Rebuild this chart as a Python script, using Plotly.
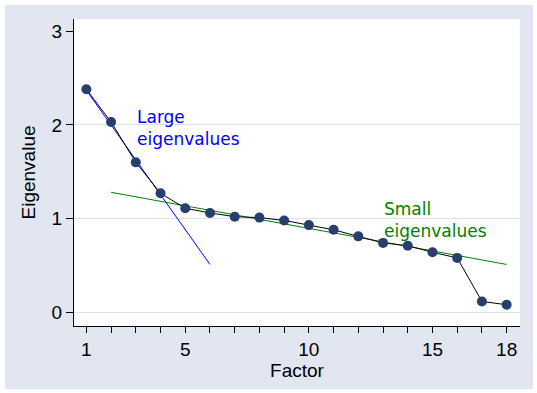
import plotly.graph_objects as go

# ---- data ----
factors = list(range(1, 19))
eigenvalues = [2.38, 2.03, 1.60, 1.27, 1.11, 1.06, 1.02, 1.01, 0.98,
               0.93, 0.88, 0.81, 0.74, 0.71, 0.64, 0.58, 0.115, 0.08]

large_fit_x = [1, 6]
large_fit_y = [2.37, 0.51]
small_fit_x = [2, 18]
small_fit_y = [1.28, 0.51]

x_tick_vals = list(range(1, 19))
x_tick_text = ["1", "", "", "", "5", "", "", "", "", "10", "", "", "", "", "15", "", "", "18"]
y_tick_vals = [0, 1, 2, 3]
y_grid_vals = [0, 1, 2]

large_label = "Large<br>eigenvalues"
small_label = "Small<br>eigenvalues"
large_label_pos = (2.97, 1.97)
small_label_pos = (12.97, 0.98)

# ---- styles ----
OUTER_BG = "#E1E6F0"
GRID = "#DDE1EE"
MARKER = "#263F6E"
FONT = "Liberation Sans, Arial, sans-serif"

fig = go.Figure()

fig.add_trace(go.Scatter(x=large_fit_x, y=large_fit_y, mode="lines",
                         line=dict(color="#0000FF", width=1), showlegend=False))
fig.add_trace(go.Scatter(x=small_fit_x, y=small_fit_y, mode="lines",
                         line=dict(color="#008000", width=1), showlegend=False))
fig.add_trace(go.Scatter(x=factors, y=eigenvalues, mode="lines+markers",
                         line=dict(color="black", width=1),
                         marker=dict(color=MARKER, size=10, line=dict(width=0)),
                         showlegend=False))
# invisible trace on overlay axis for gridlines at 0,1,2
fig.add_trace(go.Scatter(x=[factors[0]], y=[eigenvalues[0]], yaxis="y2",
                         mode="markers", marker=dict(opacity=0), showlegend=False,
                         hoverinfo="skip"))

L, R, T, B = 74, 17, 19, 67
W, H = 537, 393
pw, ph = W - L - R, H - T - B

fig.add_shape(type="rect", xref="paper", yref="paper",
              x0=(5 - L) / pw, x1=(533 - L) / pw,
              y0=-(389 - (T + ph)) / ph, y1=1 + (T - 5) / ph,
              fillcolor=OUTER_BG, line=dict(width=0), layer="below")
fig.add_shape(type="rect", xref="paper", yref="paper",
              x0=0, x1=1, y0=0, y1=1,
              fillcolor="white", line=dict(width=0), layer="below")

fig.add_annotation(x=large_label_pos[0], y=large_label_pos[1], text=large_label,
                   showarrow=False, xanchor="left", yanchor="middle", align="left",
                   font=dict(family="DejaVu Sans", size=17, color="#0000FF"))
fig.add_annotation(x=small_label_pos[0], y=small_label_pos[1], text=small_label,
                   showarrow=False, xanchor="left", yanchor="middle", align="left",
                   font=dict(family="DejaVu Sans", size=17, color="#008000"))

yr = [-0.147, 3.13]
fig.update_layout(
    width=W, height=H,
    margin=dict(l=L, r=R, t=T, b=B),
    paper_bgcolor="white",
    plot_bgcolor="rgba(0,0,0,0)",
    font=dict(family=FONT, color="black"),
    hovermode=False,
    xaxis=dict(range=[0.5, 18.54], tickmode="array", tickvals=x_tick_vals,
               ticktext=x_tick_text, ticks="outside", ticklen=6, tickcolor="black",
               tickwidth=1, showline=True, linecolor="black", linewidth=1,
               showgrid=False, zeroline=False, tickfont=dict(size=19),
               title=dict(text="Factor", font=dict(size=19), standoff=0)),
    yaxis=dict(range=yr, tickmode="array", tickvals=y_tick_vals,
               ticks="outside", ticklen=7, tickcolor="black", tickwidth=1,
               showline=True, linecolor="black", linewidth=1,
               showgrid=False, zeroline=False, tickfont=dict(size=19),
               title=dict(text="Eigenvalue", font=dict(size=19), standoff=10)),
    yaxis2=dict(range=yr, overlaying="y", tickmode="array", tickvals=y_grid_vals,
                showticklabels=False, showgrid=True, gridcolor=GRID, gridwidth=1,
                zeroline=False, showline=False, ticks=""),
)

fig.write_html("out.html", config={"displayModeBar": False},
               post_script="document.body.style.margin='0';document.body.style.padding='0';")
